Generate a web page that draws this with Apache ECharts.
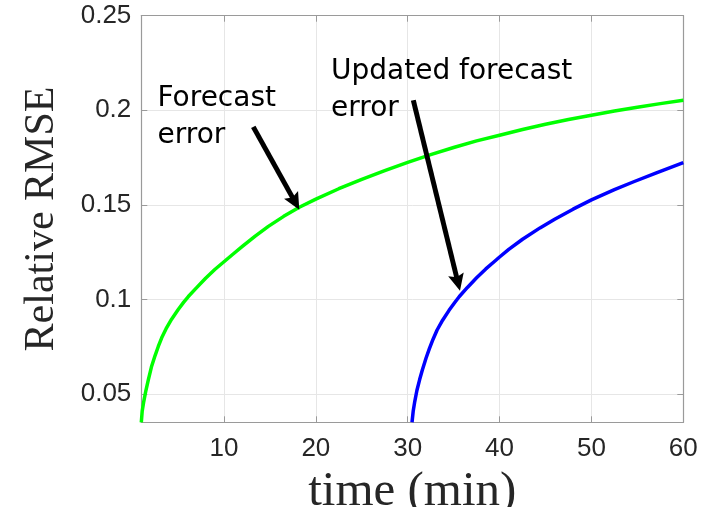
<!DOCTYPE html>
<html>
<head>
<meta charset="utf-8">
<script src="https://cdn.jsdelivr.net/npm/echarts@6/dist/echarts.min.js"></script>
<style>
  html, body { margin: 0; padding: 0; background: #ffffff; }
  #chart { width: 713px; height: 507px; }
</style>
</head>
<body>
<div id="chart"></div>
<script>
// Forecast error (green), minutes vs relative RMSE
const forecastTime = [1, 1.1, 1.25, 1.5, 1.77, 2.1, 2.5, 2.85, 3.22, 3.7, 4.3, 5.0, 5.6, 6.12, 7, 8, 9, 10, 11, 12, 13.4, 14.83, 16.5, 18.2, 20, 22.5, 25, 27.5, 30, 32.5, 35, 37.5, 40, 42.5, 45, 47.5, 50, 52.5, 55, 57.5, 60];
const forecastErr  = [0.035, 0.041, 0.0455, 0.0518, 0.0576, 0.0642, 0.0703, 0.0751, 0.0797, 0.0845, 0.0895, 0.0945, 0.0984, 0.1015, 0.1061, 0.1112, 0.1158, 0.1199, 0.124, 0.128, 0.1334, 0.1386, 0.1439, 0.1487, 0.153, 0.1585, 0.1635, 0.1681, 0.1724, 0.1765, 0.1803, 0.1838, 0.1868, 0.1898, 0.1926, 0.1951, 0.1974, 0.1996, 0.2016, 0.2035, 0.2053];

// Updated forecast error (blue)
const updatedTime = [30.47, 30.6, 30.75, 31.0, 31.3, 31.6, 32.0, 32.35, 32.75, 33.2, 33.8, 34.5, 35.1, 35.62, 36.5, 37.5, 38.5, 39.5, 40, 41, 42.5, 44.4, 46, 48, 50, 52.5, 54.6, 57, 60];
const updatedErr  = [0.035, 0.041, 0.0455, 0.0518, 0.0576, 0.0628, 0.069, 0.0738, 0.0788, 0.0838, 0.089, 0.0942, 0.0982, 0.1015, 0.1063, 0.1114, 0.1161, 0.1203, 0.1224, 0.1264, 0.1318, 0.1378, 0.1424, 0.1477, 0.1526, 0.158, 0.1622, 0.1668, 0.1723];

// Axis ticks
const xTicks = [10, 20, 30, 40, 50, 60];
const yTicks = [0.05, 0.1, 0.15, 0.2, 0.25];
const xRange = [1, 60];
const yRange = [0.035, 0.25];

// Annotation text and arrows (arrow ends given in data units: [time, error])
const annotations = [
  { lines: ['Forecast', 'error'], tail: [13.19, 0.1912], head: [18.2, 0.1474], textAt: [157.5, 108.5] },
  { lines: ['Updated forecast', 'error'], tail: [30.61, 0.2053], head: [35.69, 0.1045], textAt: [331, 81.5] }
];

const toPairs = (xs, ys) => xs.map((x, i) => [x, ys[i]]);

const AXIS_COLOR = '#9a9a9a';
const TEXT_COLOR = '#262626';
const tickFont = { fontFamily: '"Liberation Sans", Arial, sans-serif', fontSize: 26, color: TEXT_COLOR };

const chart = echarts.init(document.getElementById('chart'), null, { renderer: 'canvas' });

function frameAxis(extra) {
  return Object.assign({
    type: 'value',
    axisLine: { show: true, onZero: false, lineStyle: { color: AXIS_COLOR, width: 1.2 } },
    axisTick: { show: true, inside: true, length: 6, lineStyle: { color: AXIS_COLOR, width: 1 } },
    axisLabel: { show: false },
    splitLine: { show: false }
  }, extra);
}

chart.setOption({
  animation: false,
  backgroundColor: '#ffffff',
  grid: { left: 141.3, top: 15.7, right: 29.7, bottom: 84.7, containLabel: false, outerBoundsMode: 'none' },
  xAxis: [
    frameAxis({
      min: xRange[0], max: xRange[1], position: 'bottom',
      name: 'time (min)', nameLocation: 'middle', nameGap: 32,
      nameTextStyle: { fontFamily: '"Liberation Serif", "Times New Roman", serif', fontSize: 49, color: TEXT_COLOR },
      axisTick: { show: true, inside: true, length: 6, customValues: xTicks, lineStyle: { color: AXIS_COLOR, width: 1 } },
      axisLabel: Object.assign({ show: true, margin: 14, customValues: xTicks }, tickFont),
      splitLine: { show: true, lineStyle: { color: '#e6e6e6', width: 1 } }
    }),
    frameAxis({
      min: xRange[0], max: xRange[1], position: 'top',
      axisTick: { show: true, inside: true, length: 6, customValues: xTicks, lineStyle: { color: AXIS_COLOR, width: 1 } }
    })
  ],
  yAxis: [
    frameAxis({
      min: yRange[0], max: yRange[1], position: 'left',
      name: 'Relative RMSE', nameLocation: 'middle', nameGap: 78, nameRotate: 90,
      nameTextStyle: { fontFamily: '"Liberation Serif", "Times New Roman", serif', fontSize: 42, color: TEXT_COLOR },
      axisTick: { show: true, inside: true, length: 6, customValues: yTicks, lineStyle: { color: AXIS_COLOR, width: 1 } },
      axisLabel: Object.assign({ show: true, margin: 10, customValues: yTicks, formatter: v => String(+v.toFixed(3)) }, tickFont),
      splitLine: { show: true, lineStyle: { color: '#e6e6e6', width: 1 } }
    }),
    frameAxis({
      min: yRange[0], max: yRange[1], position: 'right',
      axisTick: { show: true, inside: true, length: 6, customValues: yTicks, lineStyle: { color: AXIS_COLOR, width: 1 } }
    })
  ],
  series: [
    {
      name: 'Forecast error', type: 'line', xAxisIndex: 0, yAxisIndex: 0,
      data: toPairs(forecastTime, forecastErr),
      showSymbol: false, smooth: false,
      lineStyle: { color: '#00ff00', width: 3.5, join: 'round' }, clip: true, z: 3
    },
    {
      name: 'Updated forecast error', type: 'line', xAxisIndex: 0, yAxisIndex: 0,
      data: toPairs(updatedTime, updatedErr),
      showSymbol: false, smooth: false,
      lineStyle: { color: '#0000ff', width: 3.5, join: 'round' }, clip: true, z: 3
    }
  ]
});

// Arrows and annotation labels, placed through the axes' own scales
function arrowShapes(tail, head) {
  const p0 = chart.convertToPixel({ xAxisIndex: 0, yAxisIndex: 0 }, tail);
  const p1 = chart.convertToPixel({ xAxisIndex: 0, yAxisIndex: 0 }, head);
  const dx = p1[0] - p0[0], dy = p1[1] - p0[1];
  const len = Math.hypot(dx, dy);
  const ux = dx / len, uy = dy / len;
  const nx = -uy, ny = ux;
  const headLen = 17, halfW = 8, notch = 3;
  const back = [p1[0] - ux * headLen, p1[1] - uy * headLen];
  const shaftEnd = [p1[0] - ux * (headLen - notch - 1), p1[1] - uy * (headLen - notch - 1)];
  return [
    { type: 'polyline', z: 10, shape: { points: [p0, shaftEnd] },
      style: { stroke: '#000', lineWidth: 5, fill: null, lineCap: 'butt' } },
    { type: 'polygon', z: 10, shape: { points: [
        p1,
        [back[0] + nx * halfW, back[1] + ny * halfW],
        [back[0] + ux * notch, back[1] + uy * notch],
        [back[0] - nx * halfW, back[1] - ny * halfW]
      ] }, style: { fill: '#000' } }
  ];
}

const graphics = [];
annotations.forEach(a => {
  graphics.push(...arrowShapes(a.tail, a.head));
  a.lines.forEach((line, i) => {
    graphics.push({
      type: 'text', z: 11, x: a.textAt[0], y: a.textAt[1] + i * 37 - 10,
      style: { text: line, fill: '#000', font: '28px "DejaVu Sans", sans-serif', textAlign: 'left', verticalAlign: 'middle' }
    });
  });
});
chart.setOption({ graphic: graphics });
</script>
</body>
</html>
